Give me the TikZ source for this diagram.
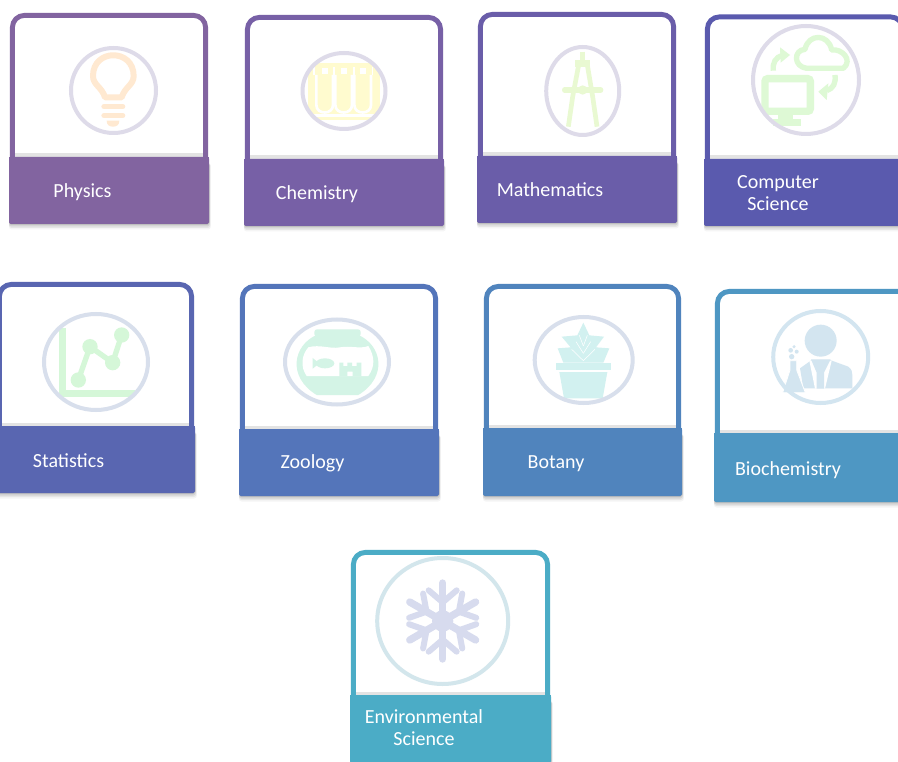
\documentclass[tikz,border=0pt]{standalone}
\usepackage{fontspec}
\setmainfont{Carlito}
\definecolor{cPhys}{HTML}{8264A0}
\definecolor{cChem}{HTML}{7760A6}
\definecolor{cMath}{HTML}{6A5DA9}
\definecolor{cComp}{HTML}{5A5AAE}
\definecolor{cStat}{HTML}{5966B1}
\definecolor{cZool}{HTML}{5475BA}
\definecolor{cBota}{HTML}{5084BD}
\definecolor{cBioc}{HTML}{4E97C3}
\definecolor{cEnvi}{HTML}{4BACC6}
\definecolor{iBulb}{HTML}{FFE9D1}
\definecolor{iTube}{HTML}{FFFBCF}
\definecolor{iComp}{HTML}{E9F9D2}
\definecolor{iCloud}{HTML}{DEF9D5}
\definecolor{iStat}{HTML}{D5F7D8}
\definecolor{iFish}{HTML}{D4F4E6}
\definecolor{iPlant}{HTML}{D2F1F0}
\definecolor{iBio}{HTML}{D3E5F0}
\definecolor{iSnow}{HTML}{D7DBEE}
\definecolor{rA}{HTML}{DEDBE9}
\definecolor{rB}{HTML}{D8DFEC}
\definecolor{rC}{HTML}{D3E6EC}
\tikzset{
  x=.75pt,y=-.75pt,
  cardlabel/.style={text=white,font=\fontsize{15}{16.5}\selectfont,align=center,inner sep=0pt},
  zoomed/.style={x=.25pt,y=-.25pt},
  ringline/.style={line width=3pt},
}
% left, right, top, split, bottom, colour
\newcommand{\cardbox}[6]{%
  \foreach \s/\o in {1/.10,2.5/.08,4/.06,5.5/.04}{
    \fill[black,opacity=\o,rounded corners=2pt] (#1-1,#4+6) rectangle (#2+1+\s/3,#5+\s);
  }
  \fill[white] (#1+2,#3+2) rectangle (#2-2,#4);
  \draw[#6,line width=3.7pt,rounded corners=9pt] (#1+2.4,#4+1) -- (#1+2.4,#3+2.4) -- (#2-2.4,#3+2.4) -- (#2-2.4,#4+1);
  \fill[black!11] (#1+4.8,#4-3.5) rectangle (#2-4.8,#4+.5);
  \fill[#6,rounded corners=1.2pt] (#1-1,#4) rectangle (#2+1,#5);
  \fill[#6] (#1-1,#4) rectangle (#2+1,#4+8);
}
\begin{document}
\begin{tikzpicture}
\useasboundingbox (0,0) rectangle (898,762);
\fill[white] (0,0) rectangle (898,762);

% ---------- Physics
\cardbox{10}{208}{13}{157}{224}{cPhys}
\begin{scope}[zoomed]
  \draw[iBulb,line width=4.5pt,line join=round] (315,292) .. controls (305,260) and (279,255) .. (279,228) .. controls (279,145) and (401,145) .. (401,228) .. controls (401,255) and (375,260) .. (365,292) -- cycle;
  \draw[iBulb,line width=4pt,line cap=round] (312,320) -- (368,320);
  \draw[iBulb,line width=4pt,line cap=round] (312,347) -- (368,347);
  \fill[iBulb] (320,362) -- (358,362) .. controls (358,375) and (350,380) .. (339,380) .. controls (328,380) and (320,375) .. (320,362) -- cycle;
\end{scope}
\draw[rA,ringline] (113.5,90.5) ellipse [x radius=42.5,y radius=42.5];
\node[cardlabel] (physics) at (82.5,192) {Physics};

% ---------- Chemistry
\cardbox{245}{443}{15}{159}{226}{cChem}
\begin{scope}
  \clip (344,91) ellipse [x radius=41,y radius=38];
  \begin{scope}[zoomed]
    \fill[iTube] (925,190) rectangle (1140,360);
    \foreach \a in {953,1010,1067}{
      \draw[white,line width=2pt] (\a-4,225) -- (\a-4,315) .. controls (\a-4,345) and (\a+46,345) .. (\a+46,315) -- (\a+46,225);
      \fill[white] (\a+13,203) rectangle (\a+31,222);
    }
    \fill[white] (925,342) rectangle (1140,350);
    \fill[white] (940,200) rectangle (945,225);
    \fill[white] (1000,200) rectangle (1006,225);
    \fill[white] (1058,200) rectangle (1064,225);
    \fill[white] (1115,200) rectangle (1120,225);
  \end{scope}
\end{scope}
\draw[rA,ringline] (344,91) ellipse [x radius=41.5,y radius=38];
\node[cardlabel] (chemistry) at (317,194.5) {Chemistry};

% ---------- Mathematics
\cardbox{478}{676}{12}{156}{223}{cMath}
\begin{scope}[shift={(450,0)},zoomed]
  \draw[iComp,line width=3.5pt,line join=round] (398,155) -- (398,185);
  \fill[iComp] (376,180) rectangle (420,200);
  \draw[iComp,line width=3.5pt,line join=round] (386,195) -- (368,290) -- (355,380);
  \draw[iComp,line width=3.5pt,line join=round] (412,195) -- (428,290) -- (441,380);
  \draw[iComp,line width=4pt,line cap=round] (344,270) -- (452,270);
  \fill[iComp] (398,270) circle [radius=14];
\end{scope}
\draw[rA,ringline] (582.7,91) ellipse [x radius=36.5,y radius=44];
\node[cardlabel] (mathematics) at (550,190) {Mathematics};

% ---------- Computer Science
\cardbox{705}{905}{14.5}{159}{226}{cComp}
\begin{scope}[shift={(450,0)},zoomed]
  \draw[iCloud,line width=5.5pt,rounded corners=2pt] (945,236) rectangle (1081,334);
  \fill[iCloud] (985,345) rectangle (1030,360);
  \fill[iCloud] (970,358) rectangle (1052,378);
  \draw[iCloud,line width=4pt,line join=round] (1070,205) .. controls (1030,200) and (1030,150) .. (1065,148) .. controls (1075,100) and (1135,100) .. (1145,150) .. controls (1175,145) and (1210,180) .. (1180,205) -- cycle;
  \draw[iCloud,line width=4pt] (970,212) .. controls (967,188) and (977,172) .. (997,166);
  \fill[iCloud] (990,142) -- (1020,165) -- (992,188) -- cycle;
  \draw[iCloud,line width=4pt] (1155,225) .. controls (1158,250) and (1150,265) .. (1130,272);
  \fill[iCloud] (1135,250) -- (1105,275) -- (1130,300) -- cycle;
\end{scope}
\draw[rA,ringline] (806,80) ellipse [x radius=53,y radius=54];
\node[cardlabel] (computer) at (778,193) {Computer\\Science};

% ---------- Statistics
\cardbox{-3}{194}{282}{426}{493}{cStat}
\begin{scope}[shift={(0,270)},zoomed]
  \draw[iStat,line width=5pt] (187,175) -- (187,370) -- (405,370);
  \draw[iStat,line width=4pt,line join=round] (235,330) -- (270,230) -- (338,278) -- (365,195);
  \foreach \p in {(235,330),(270,230),(338,278),(365,195)}{\fill[iStat] \p circle [radius=23];}
\end{scope}
\draw[rB,ringline] (96,362) ellipse [x radius=52,y radius=48];
\node[cardlabel] (statistics) at (68.5,460.5) {Statistics};

% ---------- Zoology
\cardbox{240}{438}{284}{429}{496}{cZool}
\begin{scope}[shift={(0,270)},zoomed]
  \fill[iFish] (950,195) .. controls (880,225) and (860,320) .. (950,375) -- (1075,375) .. controls (1165,320) and (1145,225) .. (1075,195) -- cycle;
  \fill[iFish,rounded corners=2pt] (943,178) rectangle (1082,200);
  \fill[white] (925,232) .. controls (960,222) and (990,238) .. (1020,232) .. controls (1050,226) and (1080,238) .. (1105,228) .. controls (1125,260) and (1125,290) .. (1105,318) -- (920,318) .. controls (900,290) and (905,255) .. (925,232) -- cycle;
  \fill[iFish] (975,280) ellipse [x radius=28,y radius=15];
  \fill[iFish] (938,264) -- (958,280) -- (938,296) -- cycle;
  \fill[iFish] (1018,318) -- (1018,278) -- (1030,278) -- (1030,288) -- (1042,288) -- (1042,278) -- (1056,278) -- (1056,288) -- (1070,288) -- (1070,278) -- (1084,278) -- (1084,318) -- (1058,318) -- (1058,305) -- (1042,305) -- (1042,318) -- cycle;
\end{scope}
\draw[rB,ringline] (337,362) ellipse [x radius=52,y radius=42.5];
\node[cardlabel] (zoology) at (312.5,463.5) {Zoology};

% ---------- Botany
\cardbox{484}{681}{284}{428}{496}{cBota}
\begin{scope}[shift={(450,270)},zoomed]
  \fill[iPlant] (340,278) -- (323,235) -- (362,232) -- (335,200) -- (382,196) -- (400,158) -- (418,196) -- (462,200) -- (438,232) -- (478,235) -- (460,278) -- cycle;
  \foreach \a/\b in {400/255,385/215,415/215}{\fill[iPlant] (\a,\b) circle [radius=3];}
  \draw[white,line width=.4pt] (400,272) -- (365,238);
  \draw[white,line width=.4pt] (400,272) -- (435,238);
  \draw[white,line width=.4pt] (400,250) -- (378,215);
  \draw[white,line width=.4pt] (400,250) -- (422,215);
  \draw[white,line width=.4pt] (400,228) -- (388,196);
  \draw[white,line width=.4pt] (400,228) -- (412,196);
  \fill[iPlant] (318,278) rectangle (483,300);
  \fill[iPlant] (328,306) -- (472,306) -- (458,385) -- (342,385) -- cycle;
\end{scope}
\draw[rB,ringline] (583.7,360) ellipse [x radius=49,y radius=43];
\node[cardlabel] (botany) at (556,464) {Botany};

% ---------- Biochemistry
\cardbox{715}{915}{289}{433}{502}{cBioc}
\begin{scope}[shift={(450,270)},zoomed]
  \fill[iBio] (1112,212) circle [radius=48];
  \fill[iBio] (1060,355) -- (1050,295) -- (1085,270) -- (1140,270) -- (1195,290) .. controls (1205,298) and (1207,305) .. (1207,315) -- (1207,355) -- cycle;
  \fill[white] (1078,272) -- (1145,272) -- (1125,356) -- (1095,356) -- cycle;
  \fill[iBio] (1083,268) -- (1142,268) -- (1122,308) -- (1122,356) -- (1100,356) -- (1100,308) -- cycle;
  \filldraw[fill=iBio,draw=white,line width=.6pt] (1020,272) -- (1040,272) -- (1040,300) -- (1066,368) -- (998,368) -- (1020,300) -- cycle;
  \fill[iBio] (1025,260) circle [radius=8];
  \fill[iBio] (1022,241) circle [radius=7];
  \fill[iBio] (1040,245) circle [radius=6];
  \fill[iBio] (1032,230) circle [radius=5];
\end{scope}
\draw[iBio,ringline] (820.7,357) ellipse [x radius=47.5,y radius=46];
\node[cardlabel] (biochemistry) at (788,470.5) {Biochemistry};

% ---------- Environmental Science
\cardbox{351}{550}{550}{695}{763}{cEnvi}
\begin{scope}[shift={(330,540)},zoomed]
  \fill[iSnow] (338,243) circle [radius=32];
  \foreach \r in {0,60,...,300}{
    \begin{scope}[shift={(338,243)},rotate=\r]
      \draw[iSnow,line width=5.5pt,line cap=round] (0,0) -- (0,114);
      \draw[iSnow,line width=4.5pt,line cap=round] (0,56) -- (42,92);
      \draw[iSnow,line width=4.5pt,line cap=round] (0,56) -- (-42,92);
    \end{scope}
  }
\end{scope}
\draw[rC,ringline] (442.7,621) ellipse [x radius=65.5,y radius=63];
\node[cardlabel] (environmental) at (424,728) {Environmental\\Science};
\end{tikzpicture}
\end{document}
